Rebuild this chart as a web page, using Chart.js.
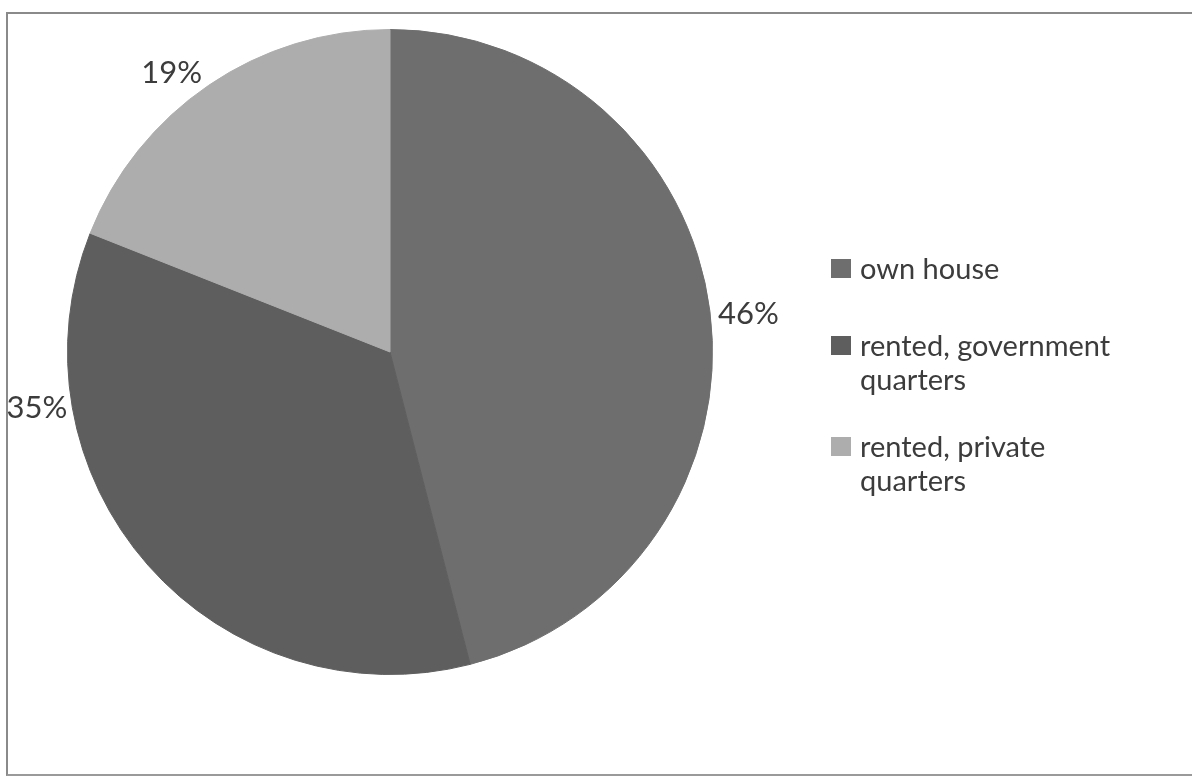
<!DOCTYPE html>
<html>
<head>
<meta charset="utf-8">
<script src="https://cdn.jsdelivr.net/npm/chart.js@4.4.0/dist/chart.umd.min.js"></script>
<style>
  html, body { margin: 0; padding: 0; background: #fff; }
  body { width: 1192px; height: 778px; position: relative; overflow: hidden; font-family: Lato, 'Open Sans', sans-serif; }
  #frame { position: absolute; left: 6px; top: 12px; width: 1186px; height: 764px; border-top: 2px solid #8a8a8a; border-left: 2px solid #8a8a8a; border-bottom: 2px solid #9a9a9a; box-sizing: border-box; }
  #wrap { position: absolute; left: 0; top: 0; width: 1192px; height: 778px; }
  #legend { position: absolute; left: 831px; top: 251px; color: #3c3c3c; font-size: 29px; line-height: 34px; }
  .item { position: relative; padding-left: 29px; }
  .item:nth-child(1) { margin-bottom: 43px; }
  .item:nth-child(2) { margin-bottom: 33px; }
  .sw { position: absolute; left: 0; top: 8px; width: 20px; height: 19px; }
</style>
</head>
<body>
<div id="frame"></div>
<div id="wrap"><canvas id="pie" width="1192" height="778"></canvas></div>
<div id="legend"></div>
<script>
// data
var categories = ['own house', 'rented, government quarters', 'rented, private quarters'];
var legendLines = [['own house'], ['rented, government', 'quarters'], ['rented, private', 'quarters']];
var shares = [46, 35, 19];
var sliceColors = ['#6e6e6e', '#5e5e5e', '#adadad'];

// label placement: angle (deg from top, clockwise) and distance beyond the rim
var pctLabels = {
  id: 'pctLabels',
  afterDatasetsDraw: function(chart, args, opts) {
    var ctx = chart.ctx;
    var meta = chart.getDatasetMeta(0);
    ctx.save();
    ctx.font = '31px Lato, "Open Sans", sans-serif';
    ctx.fillStyle = '#3c3c3c';
    ctx.textAlign = 'center';
    ctx.textBaseline = 'middle';
    meta.data.forEach(function(arc, i) {
      var a = opts.angles[i] * Math.PI / 180;
      var r = arc.outerRadius + opts.gap[i];
      var x = arc.x + r * Math.sin(a);
      var y = arc.y - r * Math.cos(a);
      ctx.fillText(shares[i] + '%', x, y);
    });
    ctx.restore();
  }
};

new Chart(document.getElementById('pie'), {
  type: 'pie',
  data: {
    labels: categories,
    datasets: [{
      data: shares,
      backgroundColor: sliceColors,
      borderColor: sliceColors,
      borderWidth: 1
    }]
  },
  options: {
    responsive: false,
    animation: false,
    layout: { padding: { left: 67, right: 479, top: 29, bottom: 103 } },
    plugins: {
      legend: { display: false },
      tooltip: { enabled: false },
      pctLabels: { angles: [84, 261, 322], gap: [38, 35, 32] }
    }
  },
  plugins: [pctLabels]
});

// legend on the right
var lg = document.getElementById('legend');
categories.forEach(function(c, i) {
  var d = document.createElement('div');
  d.className = 'item';
  d.innerHTML = '<span class="sw" style="background:' + sliceColors[i] + '"></span>' + legendLines[i].join('<br>');
  lg.appendChild(d);
});
</script>
</body>
</html>
